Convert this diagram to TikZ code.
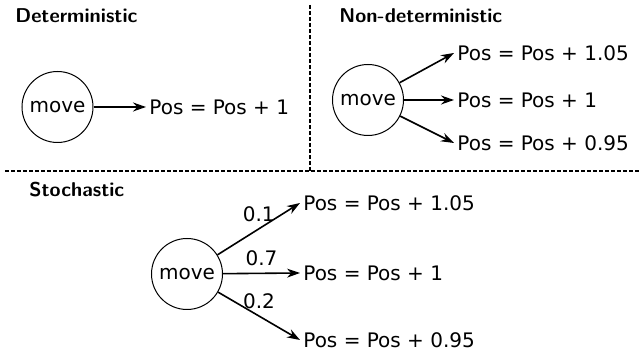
\documentclass[tikz,border=0pt]{standalone}
\usepackage{fontspec}
\setmainfont{DejaVu Sans}
\usetikzlibrary{arrows.meta}

\begin{document}
\begin{tikzpicture}[x=0.5pt, y=-0.5pt, font=\fontsize{10}{12}\selectfont,
  state/.style={draw, circle, minimum size=35.5pt, inner sep=0pt, line width=0.5pt},
  effect/.style={anchor=west, inner sep=1.5pt},
  title/.style={anchor=base west, inner sep=0pt, font=\fontsize{10}{12}\selectfont\sffamily\bfseries},
  trans/.style={-{Stealth[length=6.5pt, width=4.5pt]}, line width=0.8pt},
  sep/.style={dash pattern=on 2pt off 1pt, line width=0.7pt}]
  \useasboundingbox (0,0) rectangle (639,351);
  % separators
  \draw[sep] (5,171) -- (639,171);
  \draw[sep] (310,5) -- (310,171);
  % deterministic
  \node[title] (dtitle) at (15,23) {Deterministic};
  \node[state] (dmove) at (57.5,107) {move};
  \node[effect] (dpos) at (146,107) {Pos = Pos + 1};
  \draw[trans] (dmove) -- (dpos.west);
  % non-deterministic
  \node[title] (ntitle) at (339,23) {Non-deterministic};
  \node[state] (nmove) at (368,100) {move};
  \node[effect] (nup) at (454,53) {Pos = Pos + 1.05};
  \node[effect] (nmid) at (454,100) {Pos = Pos + 1};
  \node[effect] (nlow) at (454,143) {Pos = Pos + 0.95};
  \foreach \t in {nup,nmid,nlow} {\draw[trans] (nmove) -- (\t.west);}
  % stochastic
  \node[title] (stitle) at (29,197) {Stochastic};
  \node[state] (smove) at (187,274) {move};
  \node[effect] (sup) at (300,203) {Pos = Pos + 1.05};
  \node[effect] (smid) at (300,273) {Pos = Pos + 1};
  \node[effect] (slow) at (300,340) {Pos = Pos + 0.95};
  \draw[trans] (smove) -- node[above] {0.1} (sup.west);
  \draw[trans] (smove) -- node[above] {0.7} (smid.west);
  \draw[trans] (smove) -- node[above] {0.2} (slow.west);
\end{tikzpicture}
\end{document}
